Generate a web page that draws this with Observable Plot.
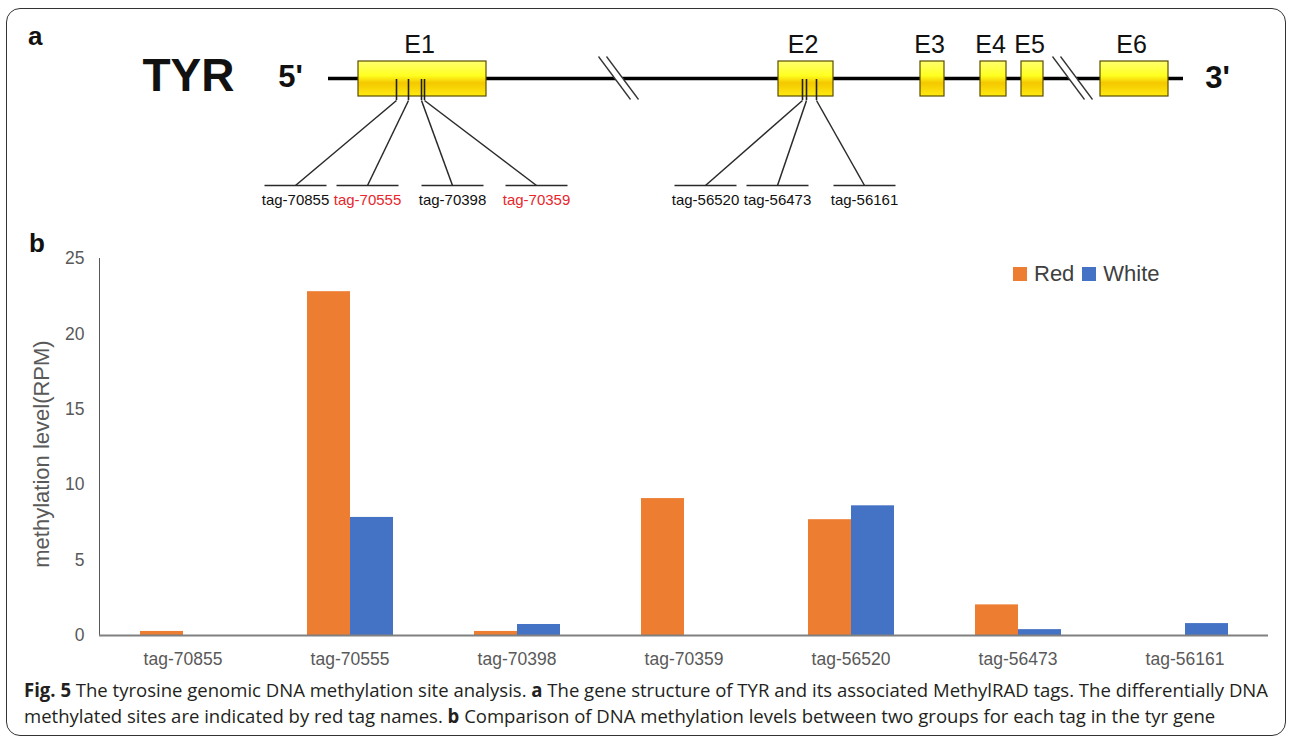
<!DOCTYPE html>
<html><head><meta charset="utf-8">
<script src="https://cdn.jsdelivr.net/npm/d3@7"></script>
<script src="https://cdn.jsdelivr.net/npm/@observablehq/plot@0.6"></script>
<style>
body{margin:0;background:#fff;}
#fig{position:relative;width:1290px;height:740px;overflow:hidden;font-family:"Liberation Sans",Arial,sans-serif;background:#fff;}
#border{position:absolute;left:6px;top:8px;width:1280px;height:728px;border:1.5px solid #333;border-radius:14px;box-sizing:border-box;}
.panel{position:absolute;left:0;}
.letter{position:absolute;font-weight:bold;font-size:26px;color:#111;line-height:normal;}
#legend{position:absolute;left:1013px;top:261px;display:flex;align-items:center;font-size:22px;color:#404040;}
#legend .sw{width:14px;height:14px;display:inline-block;margin-right:7px;}
#legend .lab{margin-right:8px;}
#ylabel{position:absolute;left:42px;top:454px;transform:translate(-50%,-50%) rotate(-90deg);font-size:22px;color:#595959;white-space:nowrap;}
#caption{position:absolute;left:24px;top:677px;font-family:"Open Sans",sans-serif;font-size:19px;line-height:26px;color:#231f20;white-space:nowrap;transform-origin:0 0;}
#caption div{display:block;width:max-content;}
</style></head><body>
<div id="fig">
 <div id="border"></div>
 <div id="panelA" class="panel" style="top:0"></div>
 <div id="panelB" class="panel" style="top:230px"></div>
 <div class="letter" style="left:28px;top:21px">a</div>
 <div class="letter" style="left:29px;top:228px">b</div>
 <div id="ylabel">methylation level(RPM)</div>
 <div id="legend"></div>
 <div id="caption"></div>
</div>
<script>
// ---------- Data ----------
const tagNames = ["tag-70855","tag-70555","tag-70398","tag-70359","tag-56520","tag-56473","tag-56161"];
const groups = ["Red","White"];
const groupColors = ["#ED7D31","#4472C4"];
const redValues   = [0.27, 22.8, 0.27, 9.08, 7.68, 2.03, 0];
const whiteValues = [0,    7.83, 0.73, 0,    8.6,  0.39, 0.79];
const yTicks = [0,5,10,15,20,25];

// gene structure (diagram units along the gene drawing)
const exonNames = ["E1","E2","E3","E4","E5","E6"];
const exonStart = [358, 778, 920, 980, 1021, 1100];
const exonEnd   = [486, 833, 944, 1006, 1043, 1168];
const geneSpan  = [328, 1183];
const breakCenters = [618, 1072];
const tagSite = [396, 408, 421, 424, 802, 806, 816];
const tagSlot = [295, 367, 452, 536, 705, 777, 864];
const tagDifferential = [false, true, false, true, false, false, false];

const FONT = "Liberation Sans, Arial, sans-serif";

// ---------- Panel a ----------
const exons = exonNames.map((name,i)=>({name, start:exonStart[i], end:exonEnd[i]}));
const tagList = tagNames.map((name,i)=>({name, site:tagSite[i], slot:tagSlot[i], diff:tagDifferential[i]}));
const LINE_Y=78, EXON_TOP=61, EXON_BOTTOM=96, TICK_BOTTOM=100, SEG_Y=185, LABEL_Y=200, SEG_HALF=31;
const BRK_DX=16, BRK_TOP=56, BRK_BOTTOM=99, BRK_GAP=4;

const gradMark = () => {
  const ns = "http://www.w3.org/2000/svg";
  const defs = document.createElementNS(ns, "defs");
  defs.innerHTML = `<linearGradient id="exonGrad" x1="0" y1="0" x2="0" y2="1">
    <stop offset="0" stop-color="#ffff70"/>
    <stop offset="0.42" stop-color="#ffff1f"/>
    <stop offset="0.62" stop-color="#f4c800"/>
    <stop offset="1" stop-color="#ffea10"/></linearGradient>`;
  return defs;
};

const panelA = Plot.plot({
  width: 1290, height: 230, margin: 0,
  x: {domain: [0,1290], range: [0,1290], axis: null},
  y: {domain: [0,230], range: [0,230], axis: null},
  style: {fontFamily: FONT, color: "#111", background: "transparent"},
  marks: [
    gradMark,
    Plot.ruleY([LINE_Y], {x1: geneSpan[0], x2: geneSpan[1], stroke: "#000", strokeWidth: 3.5}),
    Plot.link(breakCenters, {x1: d=>d-BRK_DX, y1: BRK_TOP, x2: d=>d+BRK_DX, y2: BRK_BOTTOM, stroke: "#fff", strokeWidth: 7}),
    Plot.link(breakCenters, {x1: d=>d-BRK_DX-BRK_GAP, y1: BRK_TOP, x2: d=>d+BRK_DX-BRK_GAP, y2: BRK_BOTTOM, stroke: "#333", strokeWidth: 1.3}),
    Plot.link(breakCenters, {x1: d=>d-BRK_DX+BRK_GAP, y1: BRK_TOP, x2: d=>d+BRK_DX+BRK_GAP, y2: BRK_BOTTOM, stroke: "#333", strokeWidth: 1.3}),
    Plot.rect(exons, {x1: "start", x2: "end", y1: EXON_TOP, y2: EXON_BOTTOM, fill: "url(#exonGrad)", stroke: "#5a4d00", strokeWidth: 1.2}),
    Plot.text(exons, {x: d=>(d.start+d.end)/2 - 3, y: 44, text: "name", fontSize: 25}),
    Plot.ruleX(tagList, {x: "site", y1: LINE_Y+1, y2: TICK_BOTTOM, stroke: "#222", strokeWidth: 1.6}),
    Plot.link(tagList, {x1: "site", y1: TICK_BOTTOM, x2: "slot", y2: SEG_Y, stroke: "#2a2a2a", strokeWidth: 1.5}),
    Plot.link(tagList, {x1: d=>d.slot-SEG_HALF, x2: d=>d.slot+SEG_HALF, y1: SEG_Y, y2: SEG_Y, stroke: "#2a2a2a", strokeWidth: 1.7}),
    Plot.text(tagList, {x: "slot", y: LABEL_Y, text: "name", fill: d=>d.diff ? "#e8262c" : "#111", fontSize: 15}),
    Plot.text(["TYR"], {x: 188, y: 76, text: d=>d, fontSize: 46, fontWeight: "bold"}),
    Plot.text(["5'"], {x: geneSpan[0]-38, y: 77, text: d=>d, fontSize: 31, fontWeight: "bold"}),
    Plot.text(["3'"], {x: geneSpan[1]+34, y: 78, text: d=>d, fontSize: 31, fontWeight: "bold"})
  ]
});
document.getElementById("panelA").appendChild(panelA);

// ---------- Panel b ----------
const rows = tagNames.flatMap((t,i)=>[
  {tag: t, group: groups[0], value: redValues[i]},
  {tag: t, group: groups[1], value: whiteValues[i]}
]);
const colorOf = g => groupColors[groups.indexOf(g)];

const panelB = Plot.plot({
  width: 1290, height: 450,
  marginLeft: 98, marginRight: 22, marginTop: 28, marginBottom: 45,
  style: {fontFamily: FONT, fontSize: "17.5px", color: "#595959", background: "transparent"},
  fx: {domain: tagNames, padding: 0, label: null, tickSize: 0, tickPadding: 17},
  x: {domain: groups, paddingInner: 0, paddingOuter: 0.9, axis: null},
  y: {domain: [0,25], ticks: yTicks, tickSize: 0, tickPadding: 15, line: true, label: null},
  marks: [
    Plot.barY(rows, {fx: "tag", x: "group", y: "value", fill: d => colorOf(d.group)}),
    Plot.ruleY([0], {stroke: "#808080", strokeWidth: 2})
  ]
});
document.getElementById("panelB").appendChild(panelB);

// ---------- Legend ----------
const legend = document.getElementById("legend");
groups.forEach((g,i)=>{
  const sw = document.createElement("span"); sw.className = "sw"; sw.style.background = groupColors[i];
  const lab = document.createElement("span"); lab.className = "lab"; lab.textContent = g;
  legend.appendChild(sw); legend.appendChild(lab);
});

// ---------- Caption ----------
const cap = document.getElementById("caption");
cap.innerHTML = `<div><b>Fig. 5</b> The tyrosine genomic DNA methylation site analysis. <b>a</b> The gene structure of TYR and its associated MethylRAD tags. The differentially DNA</div><div>methylated sites are indicated by red tag names. <b>b</b> Comparison of DNA methylation levels between two groups for each tag in the tyr gene</div>`;
const w = cap.firstChild.getBoundingClientRect().width;
cap.style.transform = `scaleX(${1244 / w})`;
</script>
</body></html>
